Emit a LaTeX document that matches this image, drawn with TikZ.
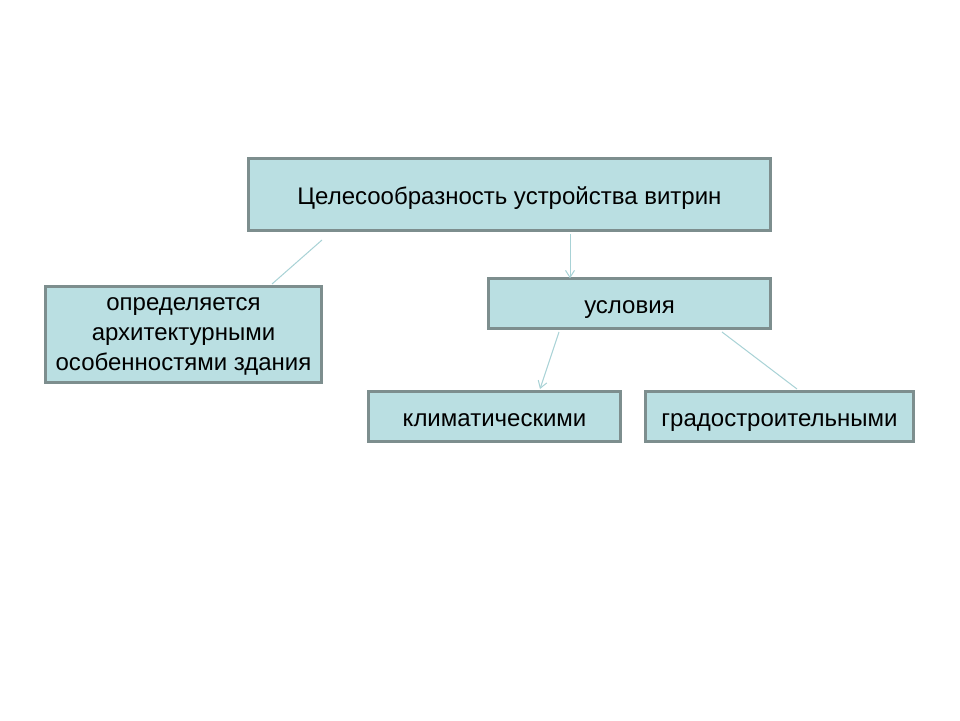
\documentclass[tikz,border=0pt]{standalone}
\usepackage{fontspec}
\setmainfont{Liberation Sans}
\usetikzlibrary{arrows.meta}
\definecolor{boxfill}{HTML}{BADFE2}
\definecolor{boxdraw}{HTML}{7D8E8E}
\definecolor{linkcol}{HTML}{A8D2D6}
\tikzset{
  box/.style={draw=boxdraw, line width=2.6pt, fill=boxfill, inner sep=0pt, outer sep=0pt, anchor=north west,
    font=\fontsize{24}{30}\selectfont},
  one/.style={box, text height=19pt, text depth=0pt},
  multi/.style={box, align=center, text depth=1pt},
  link/.style={draw=linkcol, line width=1pt},
  arr/.style={link, -{Straight Barb[length=7pt,width=9pt]}}
}
\begin{document}
\begin{tikzpicture}[x=1pt,y=-1pt]
\useasboundingbox (0,0) rectangle (960,720);
\fill[white] (0,0) rectangle (960,720);
\node[one, minimum width=522.4pt, minimum height=72.4pt] (top) at (248.3,158.3) {Целесообразность устройства витрин};
\node[multi, minimum width=276.4pt, minimum height=96.4pt] (left) at (45.3,286.3) {определяется\\архитектурными\\особенностями здания};
\node[one, minimum width=282.4pt, minimum height=50.4pt] (usl) at (488.3,278.3) {условия};
\node[one, minimum width=252.4pt, minimum height=50.4pt] (klim) at (368.3,391.3) {климатическими};
\node[one, minimum width=268.4pt, minimum height=50.4pt] (grad) at (645.3,391.3) {градостроительными};
\coordinate (f1) at (322,240);
\coordinate (a1s) at (570,234);
\coordinate (a2s) at (559,332);
\coordinate (a2e) at (540,389);
\coordinate (l2s) at (722,332);
\coordinate (l2e) at (797,389);
\coordinate (l1e) at (272,284);
\draw[link] (f1) -- (l1e);
\draw[arr] (a1s) -- (a1s |- usl.north);
\draw[arr] (a2s) -- (a2e);
\draw[link] (l2s) -- (l2e);
\end{tikzpicture}
\end{document}
